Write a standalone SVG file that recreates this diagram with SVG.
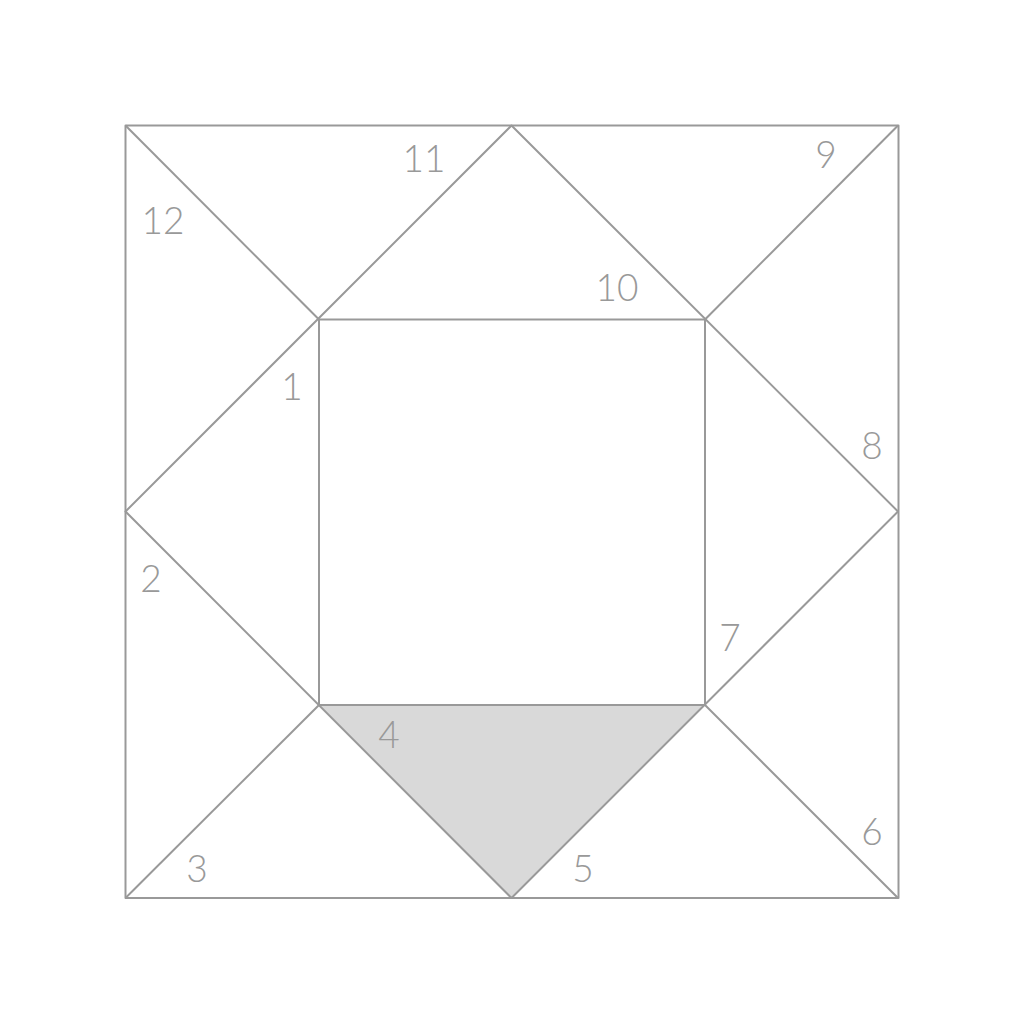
<svg xmlns="http://www.w3.org/2000/svg" width="1024" height="1024" viewBox="0 0 1024 1024">
<style>
.ln{stroke:#999;stroke-width:2;fill:none;stroke-linejoin:round}
.lb{font-family:Lato,"Liberation Sans",sans-serif;font-weight:300;font-size:37px;fill:#999;text-anchor:middle}
</style>
<rect width="1024" height="1024" fill="#fff"/>
<g id="shaded">
<polygon points="319,705 705,705 511.5,898" fill="#d9d9d9"/>
</g>
<g id="connectors">
<rect class="ln" x="125.5" y="125.5" width="773" height="772.5"/>
<polygon class="ln" points="511.5,125.5 898,511.5 511.5,898 125.5,511.5"/>
<rect class="ln" x="319" y="319.5" width="386" height="385.5"/>
<line class="ln" x1="125.5" y1="125.5" x2="319" y2="319.5"/>
<line class="ln" x1="898" y1="125.5" x2="705" y2="319.5"/>
<line class="ln" x1="898" y1="898" x2="705" y2="705"/>
<line class="ln" x1="125.5" y1="898" x2="319" y2="705"/>
</g>
<g id="labels">
<text class="lb" x="292" y="400">1</text>
<text class="lb" x="151" y="592">2</text>
<text class="lb" x="197" y="882">3</text>
<text class="lb" x="389" y="748">4</text>
<text class="lb" x="583" y="882">5</text>
<text class="lb" x="872" y="845">6</text>
<text class="lb" x="730" y="651">7</text>
<text class="lb" x="872" y="459">8</text>
<text class="lb" x="826" y="168">9</text>
<text class="lb" x="617" y="301">10</text>
<text class="lb" x="424" y="172">11</text>
<text class="lb" x="163" y="234">12</text>
</g>
</svg>
